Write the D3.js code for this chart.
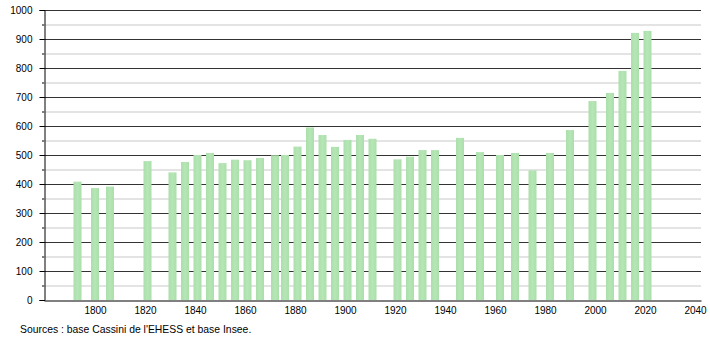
<!DOCTYPE html>
<html>
<head>
<meta charset="utf-8">
<script src="https://cdn.jsdelivr.net/npm/d3@7"></script>
<style>
  body { margin: 0; background: #fff; }
  svg text { font-family: "Liberation Sans", Arial, sans-serif; }
</style>
</head>
<body>
<div id="chart"></div>
<script>
const WIDTH = 710;
const HEIGHT = 340;

const years = [1793, 1800, 1806, 1821, 1831, 1836, 1841, 1846, 1851, 1856, 1861, 1866, 1872, 1876,
  1881, 1886, 1891, 1896, 1901, 1906, 1911, 1921, 1926, 1931, 1936, 1946, 1954, 1962, 1968,
  1975, 1982, 1990, 1999, 2006, 2011, 2016, 2021];
const population = [408, 386, 391, 479, 440, 476, 500, 507, 472, 484, 482, 490, 499, 500,
  529, 595, 569, 528, 552, 569, 556, 485, 494, 517, 517, 559, 510, 500, 507,
  447, 507, 586, 686, 714, 790, 921, 928];
const xTicks = [1800, 1820, 1840, 1860, 1880, 1900, 1920, 1940, 1960, 1980, 2000, 2020, 2040];
const yTicks = [0, 100, 200, 300, 400, 500, 600, 700, 800, 900, 1000];
const yMinor = [50, 150, 250, 350, 450, 550, 650, 750, 850, 950];
const sourceText = "Sources : base Cassini de l'EHESS et base Insee.";

const margin = { top: 10, right: 9, bottom: 40, left: 44 };

const svg = d3.select("#chart").append("svg").attr("width", WIDTH).attr("height", HEIGHT);

const x = d3.scaleLinear().domain([1779.6, 2042.4]).range([margin.left, WIDTH - margin.right]);
const y = d3.scaleLinear().domain([0, 1000]).range([HEIGHT - margin.bottom, margin.top]);

// minor grid
svg.append("g")
  .selectAll("line")
  .data(yMinor)
  .join("line")
  .attr("x1", margin.left).attr("x2", WIDTH - margin.right)
  .attr("y1", d => y(d) + 0.5).attr("y2", d => y(d) + 0.5)
  .attr("stroke", "#c8c8c8");

// major grid
svg.append("g")
  .selectAll("line")
  .data(yTicks.slice(1))
  .join("line")
  .attr("x1", margin.left).attr("x2", WIDTH - margin.right)
  .attr("y1", d => y(d) + 0.5).attr("y2", d => y(d) + 0.5)
  .attr("stroke", "#333");

// bars
const defs = svg.append("defs");
const grad = defs.append("linearGradient").attr("id", "barGrad").attr("x1", "0").attr("x2", "1");
grad.append("stop").attr("offset", "0%").attr("stop-color", "#aadfaa");
grad.append("stop").attr("offset", "50%").attr("stop-color", "#b6e6b6");
grad.append("stop").attr("offset", "100%").attr("stop-color", "#aadfaa");

const barW = 8;
svg.append("g")
  .selectAll("rect")
  .data(years)
  .join("rect")
  .attr("x", d => x(d) - barW / 2)
  .attr("width", barW)
  .attr("y", (d, i) => y(population[i]))
  .attr("height", (d, i) => y(0) - y(population[i]))
  .attr("fill", "url(#barGrad)");

// y axis
const yAxis = d3.axisLeft(y).tickValues(yTicks).tickSize(5).tickPadding(7).tickFormat(d3.format("d"));
const gy = svg.append("g").attr("transform", "translate(" + (margin.left + 0.5) + ",0)").call(yAxis);
gy.select(".domain").attr("stroke", "#000");
gy.selectAll(".tick line").attr("stroke", "#000");
gy.selectAll("text").attr("font-size", 10).attr("fill", "#000")
  .attr("font-family", "'Liberation Sans', Arial, sans-serif");

svg.append("g")
  .selectAll("line")
  .data(yMinor)
  .join("line")
  .attr("x1", margin.left - 2).attr("x2", margin.left)
  .attr("y1", d => y(d) + 0.5).attr("y2", d => y(d) + 0.5)
  .attr("stroke", "#000");

// x axis
const xAxis = d3.axisBottom(x).tickValues(xTicks).tickSize(0).tickPadding(6).tickFormat(d3.format("d"));
const gx = svg.append("g").attr("transform", "translate(0," + (y(0) + 0.5) + ")").call(xAxis);
gx.select(".domain").attr("stroke", "#000");
gx.selectAll("text").attr("font-size", 10).attr("fill", "#000")
  .attr("font-family", "'Liberation Sans', Arial, sans-serif");

svg.append("text")
  .attr("x", 20)
  .attr("y", 333)
  .attr("font-size", 10.4)
  .attr("fill", "#000")
  .text(sourceText);
</script>
</body>
</html>
